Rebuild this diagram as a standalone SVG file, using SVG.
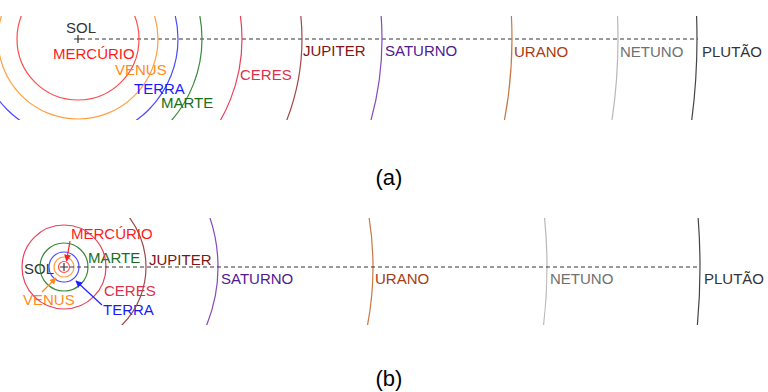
<svg xmlns="http://www.w3.org/2000/svg" width="768" height="392" viewBox="0 0 768 392">
<style>
text{font-family:"Liberation Sans",Arial,sans-serif;font-size:15px}
.o{fill:none;stroke-width:1.2}
.axis{fill:none;stroke:#333;stroke-width:1;stroke-dasharray:4 3}
.cap{font-size:22px;fill:#000;text-anchor:middle}
</style>
<defs>
<clipPath id="ca"><rect x="0" y="16" width="768" height="104"/></clipPath>
<clipPath id="cb"><rect x="100" y="218" width="668" height="107"/></clipPath>
<marker id="mr" viewBox="0 0 10 10" refX="9" refY="5" markerWidth="7" markerHeight="7" orient="auto" markerUnits="userSpaceOnUse"><path d="M0,0L10,5L0,10z" fill="#ff2020"/></marker>
<marker id="mo" viewBox="0 0 10 10" refX="9" refY="5" markerWidth="7" markerHeight="7" orient="auto" markerUnits="userSpaceOnUse"><path d="M0,0L10,5L0,10z" fill="#ff8c1a"/></marker>
<marker id="mb" viewBox="0 0 10 10" refX="9" refY="5" markerWidth="7" markerHeight="7" orient="auto" markerUnits="userSpaceOnUse"><path d="M0,0L10,5L0,10z" fill="#2020ff"/></marker>
</defs>

<!-- Panel (a) -->
<g id="panel-a">
<g id="connectors-a">
<line class="axis" x1="81" y1="39" x2="698" y2="39"/>
</g>
<g id="a-sol"><path d="M74,39h8M78,35v8" stroke="#333" stroke-width="1.2"/><text x="66" y="33" fill="#333">SOL</text></g>
<g clip-path="url(#ca)">
<g id="a-mercurio"><circle class="o" cx="78" cy="39" r="61" stroke="#ff4d4d"/></g>
<g id="a-venus"><circle class="o" cx="78" cy="39" r="80" stroke="#ffa040"/></g>
<g id="a-terra"><circle class="o" cx="78" cy="39" r="100" stroke="#4a4aff"/></g>
<g id="a-marte"><circle class="o" cx="78" cy="39" r="124" stroke="#3a8a3a"/></g>
<g id="a-ceres"><circle class="o" cx="78" cy="39" r="164" stroke="#e8405a"/></g>
<g id="a-jupiter"><circle class="o" cx="78" cy="39" r="224" stroke="#a04848"/></g>
<g id="a-saturno"><circle class="o" cx="78" cy="39" r="304" stroke="#8548c0"/></g>
<g id="a-urano"><circle class="o" cx="78" cy="39" r="434" stroke="#c87848"/></g>
<g id="a-netuno"><circle class="o" cx="78" cy="39" r="540" stroke="#b8b8b8"/></g>
<g id="a-plutao"><circle class="o" cx="78" cy="39" r="619" stroke="#444"/></g>
</g>
<g id="a-labels">
<text x="53" y="59" fill="#ff1a1a">MERCÚRIO</text>
<text x="115" y="75" fill="#ff8c1a">VENUS</text>
<text x="134" y="94" fill="#1a1aff">TERRA</text>
<text x="161" y="108" fill="#1a6e1a">MARTE</text>
<text x="240" y="80" fill="#e0304a">CERES</text>
<text x="303" y="56" fill="#801414">JUPITER</text>
<text x="385" y="56" fill="#501a90">SATURNO</text>
<text x="514" y="57" fill="#a83c10">URANO</text>
<text x="620" y="57" fill="#707070">NETUNO</text>
<text x="702" y="57" fill="#333">PLUTÃO</text>
</g>
<text class="cap" x="389" y="185">(a)</text>
</g>

<!-- Panel (b) -->
<g id="panel-b">
<g id="b-sol"><path d="M60,267h8M64,263v8" stroke="#333" stroke-width="1.2"/><text x="24" y="274" fill="#333">SOL</text></g>
<g id="b-mercurio"><circle class="o" cx="64" cy="267" r="5.5" stroke="#ff4d4d"/><text x="71" y="239" fill="#ff1a1a">MERCÚRIO</text></g>
<g id="b-venus"><circle class="o" cx="64" cy="267" r="10" stroke="#ffa040"/><text x="23" y="305" fill="#ff8c1a">VENUS</text></g>
<g id="b-terra"><circle class="o" cx="64" cy="267" r="15" stroke="#4a4aff"/><text x="103" y="315" fill="#1a1aff">TERRA</text></g>
<g id="b-marte"><circle class="o" cx="64" cy="267" r="24" stroke="#3a8a3a"/><text x="88" y="263" fill="#1a6e1a">MARTE</text></g>
<g id="b-ceres"><circle class="o" cx="64" cy="267" r="42" stroke="#e8405a"/><text x="104" y="296" fill="#e0304a">CERES</text></g>
<g clip-path="url(#cb)">
<g id="b-jupiter-orbit"><circle class="o" cx="64" cy="267" r="82" stroke="#a04848"/></g>
<g id="b-saturno-orbit"><circle class="o" cx="64" cy="267" r="154" stroke="#8548c0"/></g>
<g id="b-urano-orbit"><circle class="o" cx="64" cy="267" r="309" stroke="#c87848"/></g>
<g id="b-netuno-orbit"><circle class="o" cx="64" cy="267" r="483" stroke="#b8b8b8"/></g>
<g id="b-plutao-orbit"><circle class="o" cx="64" cy="267" r="636" stroke="#444"/></g>
</g>
<g id="b-labels">
<text x="149" y="265" fill="#801414">JUPITER</text>
<text x="221" y="284" fill="#501a90">SATURNO</text>
<text x="375" y="284" fill="#a83c10">URANO</text>
<text x="550" y="284" fill="#707070">NETUNO</text>
<text x="704" y="284" fill="#333">PLUTÃO</text>
</g>
<g id="connectors-b">
<line class="axis" x1="70" y1="267" x2="698" y2="267"/>
<line x1="70" y1="241" x2="66.5" y2="261" stroke="#ff2020" stroke-width="1.2" marker-end="url(#mr)"/>
<line x1="42" y1="292" x2="56" y2="278" stroke="#ff8c1a" stroke-width="1.2" marker-end="url(#mo)"/>
<line x1="102" y1="305" x2="76" y2="281" stroke="#2020ff" stroke-width="1.2" marker-end="url(#mb)"/>
</g>
<text class="cap" x="389" y="386">(b)</text>
</g>
</svg>
